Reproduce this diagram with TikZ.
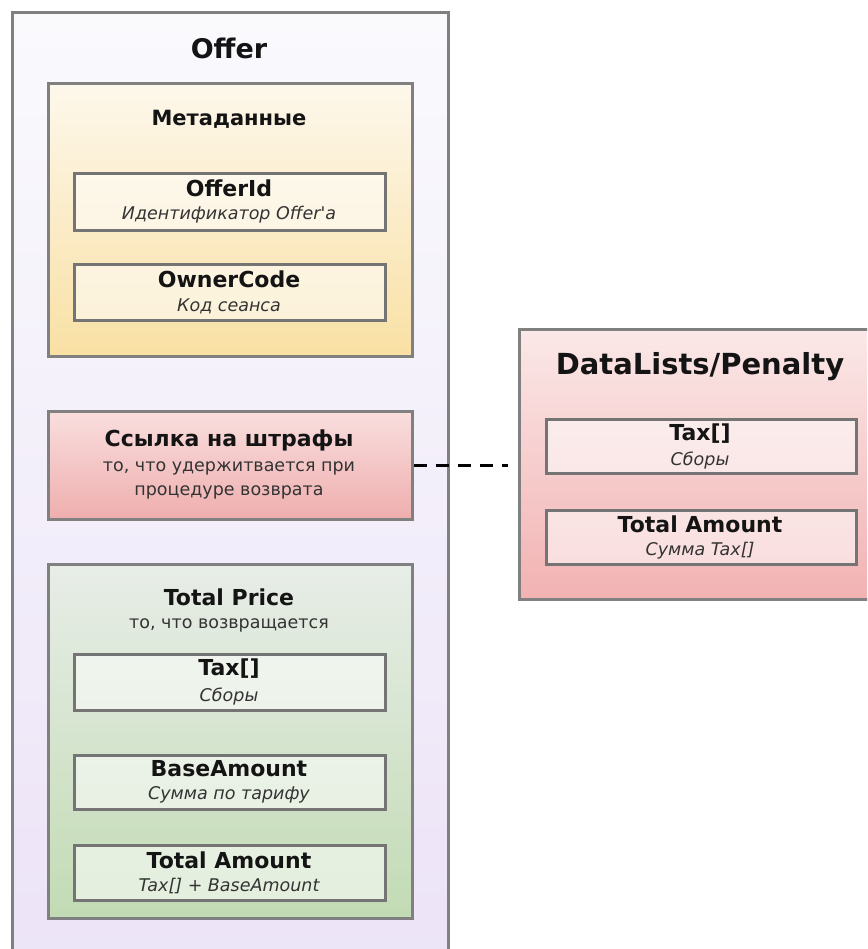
\documentclass[tikz,border=0pt]{standalone}
\usepackage{fontspec}
\setmainfont{DejaVu Sans}
\usetikzlibrary{positioning}
\definecolor{bordergray}{HTML}{808080}
\definecolor{innergray}{HTML}{747474}
\definecolor{txt}{HTML}{141414}
\definecolor{subtxt}{HTML}{333333}
\tikzset{
  container/.style={draw=bordergray, line width=2.6pt, shading=axis, shading angle=0, inner sep=0pt, anchor=north west},
  innerbox/.style={draw=innergray, line width=2.6pt, fill=white, fill opacity=0.55, draw opacity=1, inner sep=0pt, anchor=north west},
  titletext/.style={text=txt, font=\bfseries\fontsize{22}{26}\selectfont, inner sep=0pt},
  subtext/.style={text=subtxt, font=\itshape\fontsize{17.5}{20}\selectfont, inner sep=0pt},
  plaintext/.style={text=subtxt, font=\fontsize{17.5}{20}\selectfont, inner sep=0pt},
  link/.style={draw=black, line width=3pt, dash pattern=on 13pt off 9pt}
}
\begin{document}
\begin{tikzpicture}[x=1pt, y=-1pt]
\useasboundingbox (0,0) rectangle (867,949);
\clip (0,0) rectangle (867,949);
\fill[white] (0,0) rectangle (867,949);
% Offer container
\node[container, top color={rgb,255:red,250;green,250;blue,253}, bottom color={rgb,255:red,236;green,227;blue,247}, minimum width=436pt, minimum height=960pt] (offer) at (11,11) {};
\node[titletext, font=\bfseries\fontsize{27}{30}\selectfont] (offertitle) at (229,48) {Offer};
% Metadata
\node[container, top color={rgb,255:red,253;green,248;blue,236}, bottom color={rgb,255:red,249;green,224;blue,164}, minimum width=364pt, minimum height=273pt] (meta) at (47,82) {};
\node[titletext, font=\bfseries\fontsize{21}{24}\selectfont] (metatitle) at (229,119) {Метаданные};
\node[innerbox, minimum width=311pt, minimum height=57pt] (offerid) at (73,172) {};
\node[titletext] (offeridt) at (229,188) {OfferId};
\node[subtext] (offerids) at (229,215) {Идентификатор Offer\textquotesingle a};
\node[innerbox, minimum width=311pt, minimum height=56pt] (owner) at (73,263) {};
\node[titletext] (ownert) at (229,279) {OwnerCode};
\node[subtext] (owners) at (229,306) {Код сеанса};
% Penalty link
\node[container, top color={rgb,255:red,249;green,222;blue,222}, bottom color={rgb,255:red,239;green,174;blue,174}, minimum width=364pt, minimum height=108pt] (pen) at (47,410) {};
\node[titletext] (pent) at (229,440) {Ссылка на штрафы};
\node[plaintext] (pens1) at (229,468) {то, что удержитвается при};
\node[plaintext] (pens2) at (229,492) {процедуре возврата};
% Total Price
\node[container, top color={rgb,255:red,232;green,237;blue,232}, bottom color={rgb,255:red,194;green,219;blue,180}, minimum width=364pt, minimum height=354pt] (tp) at (47,563) {};
\node[titletext] (tpt) at (229,597) {Total Price};
\node[plaintext] (tps) at (229,625) {то, что возвращается};
\node[innerbox, minimum width=311pt, minimum height=56pt] (tax) at (73,653) {};
\node[titletext] (taxt) at (229,669) {Tax[]};
\node[subtext] (taxs) at (229,697) {Сборы};
\node[innerbox, minimum width=311pt, minimum height=54pt] (base) at (73,754) {};
\node[titletext] (baset) at (229,769) {BaseAmount};
\node[subtext] (bases) at (229,795) {Сумма по тарифу};
\node[innerbox, minimum width=311pt, minimum height=55pt] (tot) at (73,844) {};
\node[titletext] (tott) at (229,860) {Total Amount};
\node[subtext] (tots) at (229,886) {Tax[] + BaseAmount};
% DataLists/Penalty
\node[container, top color={rgb,255:red,251;green,232;blue,232}, bottom color={rgb,255:red,242;green,178;blue,178}, minimum width=360pt, minimum height=270pt] (dl) at (518,328) {};
\node[titletext, font=\bfseries\fontsize{29}{32}\selectfont] (dlt) at (700,367) {DataLists/Penalty};
\node[innerbox, minimum width=310pt, minimum height=54pt] (dltax) at (545,418) {};
\node[titletext] (dltaxt) at (700,434) {Tax[]};
\node[subtext] (dltaxs) at (700,461) {Сборы};
\node[innerbox, minimum width=310pt, minimum height=54pt] (dltot) at (545,509) {};
\node[titletext] (dltott) at (700,524) {Total Amount};
\node[subtext] (dltots) at (700,551) {Сумма Tax[]};
% connector
\draw[link, shorten >=10pt] (pen.east) -- (pen.east -| dl.west);
\end{tikzpicture}
\end{document}
